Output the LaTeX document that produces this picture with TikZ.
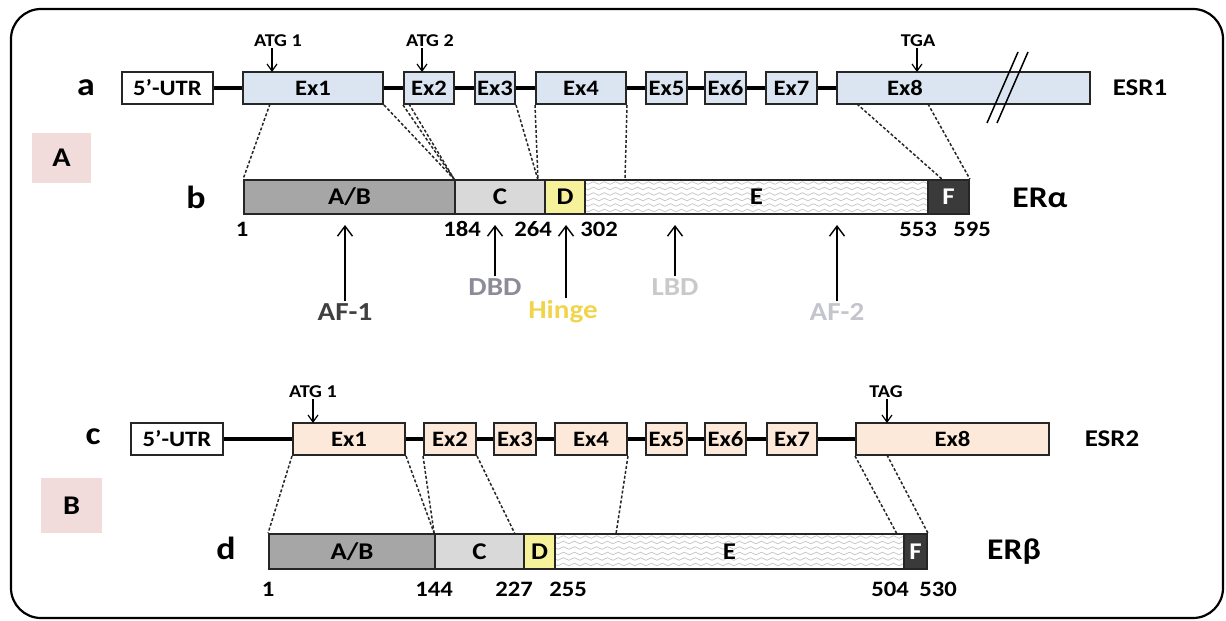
\documentclass[tikz,border=0pt]{standalone}
\usepackage{fontspec}
\setmainfont{Carlito}[FakeStretch=1.12]
\usetikzlibrary{arrows.meta,decorations.pathmorphing,calc}
\definecolor{exa}{HTML}{DBE5F1}
\definecolor{exb}{HTML}{FDE9D9}
\definecolor{abc}{HTML}{A6A6A6}
\definecolor{cc}{HTML}{D9D9D9}
\definecolor{dc}{HTML}{F5F29B}
\definecolor{fc}{HTML}{3A3A3A}
\definecolor{pinkc}{HTML}{F2DCDB}
\definecolor{boxline}{HTML}{262626}
\definecolor{wavec}{HTML}{C4C4C4}
\definecolor{afonec}{HTML}{404040}
\definecolor{dbdc}{HTML}{8C8C99}
\definecolor{hingec}{HTML}{F0D44C}
\definecolor{lbdc}{HTML}{C9C9C9}
\definecolor{aftwoc}{HTML}{C4C4CC}
\begin{document}
\begin{tikzpicture}[x=1pt,y=-1pt,
  exbox/.style={draw=boxline, line width=2pt, fill=exa, minimum height=32pt, inner sep=0pt, font=\fontsize{22}{22}\selectfont\bfseries},
  exboxb/.style={exbox, fill=exb},
  utrbox/.style={exbox, fill=white},
  dom/.style={draw=boxline, line width=1.8pt, minimum height=34pt, inner sep=0pt, font=\fontsize{24}{24}\selectfont\bfseries},
  wavy/.style={path picture={\foreach \k in {0,...,6}{\draw[wavec, line width=0.7pt, decorate, decoration={snake,amplitude=1.3pt,segment length=11pt}] ($(path picture bounding box.north west)+(-6,3+\k*5.5)$) -- ($(path picture bounding box.north east)+(6,3+\k*5.5)$);}}},
  intron/.style={line width=3.5pt, black},
  mapl/.style={dash pattern=on 3pt off 2pt, line width=1.5pt, black!85},
  sarr/.style={-{Straight Barb[length=7pt,width=10pt]}, line width=1.2pt},
  barr/.style={-{Straight Barb[length=10pt,width=15pt]}, line width=1.4pt},
  sm/.style={font=\fontsize{18}{18}\selectfont\bfseries, inner sep=1pt},
  num/.style={font=\fontsize{22}{22}\selectfont\bfseries, inner sep=1pt},
  big/.style={font=\fontsize{32}{32}\selectfont\bfseries, inner sep=0pt},
  gene/.style={font=\fontsize{24}{24}\selectfont\bfseries, inner sep=0pt},
  prot/.style={font=\fontsize{30}{30}\selectfont\bfseries, inner sep=0pt},
  lab/.style={font=\fontsize{26}{26}\selectfont\bfseries, inner sep=2pt},
  pinkbox/.style={fill=pinkc, inner sep=0pt, font=\fontsize{27}{27}\selectfont\bfseries}
]
\useasboundingbox (0,0) rectangle (1226,621);
\draw[line width=2.2pt, rounded corners=30pt] (11,9) rectangle (1223,618);

% pink panel labels
\node[pinkbox, minimum width=59pt, minimum height=50pt] (pa) at (61.5,158) {A};
\node[pinkbox, minimum width=61pt, minimum height=55pt] (pb) at (71.5,505.5) {B};

% ---------- ESR1 gene ----------
\node[big] (la) at (86,88) {a};
\node[utrbox, minimum width=91pt] (u1) at (167.5,88) {5’-UTR};
\node[exbox, minimum width=140pt] (e1) at (313,88) {Ex1};
\node[exbox, minimum width=50pt] (e2) at (429,88) {Ex2};
\node[exbox, minimum width=40pt] (e3) at (495,88) {Ex3};
\node[exbox, minimum width=90pt] (e4) at (581,88) {Ex4};
\node[exbox, minimum width=41pt] (e5) at (666.5,88) {Ex5};
\node[exbox, minimum width=41pt] (e6) at (725.5,88) {Ex6};
\node[exbox, minimum width=51pt] (e7) at (791.5,88) {Ex7};
\node[exbox, minimum width=253pt] (e8) at (963.5,88) {};
\node[font=\fontsize{22}{22}\selectfont\bfseries, inner sep=0pt] (e8l) at (905,88) {Ex8};
\draw[intron] (u1) -- (e1) -- (e2) -- (e3) -- (e4) -- (e5) -- (e6) -- (e7) -- (e8);
\draw[line width=1.5pt] (987,123) -- (1018,52) (997,123) -- (1028,52);
\node[gene] (esr1) at (1140,88) {ESR1};

\node[sm] (atga) at (278,41) {ATG 1};
\coordinate (ta) at (272,72);
\draw[sarr] (atga.south -| ta) -- (ta);
\node[sm] (atgb) at (430,41) {ATG 2};
\coordinate (tb) at (422,72);
\draw[sarr] (atgb.south -| tb) -- (tb);
\node[sm] (tga) at (918,41) {TGA};
\coordinate (tc) at (917,72);
\draw[sarr] (tga.south -| tc) -- (tc);

% ---------- ER alpha ----------
\node[big] (lb) at (196,197) {b};
\node[dom, fill=abc, minimum width=211pt] (ab1) at (349.5,197) {A/B};
\node[dom, fill=cc, minimum width=90pt] (c1) at (500,197) {C};
\node[dom, fill=dc, minimum width=40pt] (d1) at (565,197) {D};
\node[dom, fill=white, wavy, minimum width=343pt] (x1) at (756.5,197) {E};
\node[dom, fill=fc, text=white, minimum width=41pt] (f1) at (948.5,197) {F};
\node[prot] (era) at (1040,198) {ERα};

\node[num] (n11) at (242,229) {1};
\node[num] (n12) at (462,229) {184};
\node[num] (n13) at (533,229) {264};
\node[num] (n14) at (599,229) {302};
\node[num] (n15) at (918,229) {553};
\node[num] (n16) at (972,229) {595};

% mapping a -> b
\coordinate (ma1) at (270,104);
\draw[mapl] (ma1) -- (ab1.north west);
\draw[mapl] (e1.south east) -- (c1.north west);
\draw[mapl] (e2.south west) -- (c1.north west);
\coordinate (ma2) at (409,104);
\draw[mapl] (ma2) -- (c1.north west);
\coordinate (mb3) at (538,180);
\draw[mapl] (e3.south east) -- (mb3);
\draw[mapl] (e4.south west) -- (mb3);
\coordinate (mb4) at (625,180);
\draw[mapl] (e4.south east) -- (mb4);
\coordinate (ma8) at (857,104);
\coordinate (mb8) at (943,180);
\draw[mapl] (ma8) -- (mb8);
\coordinate (ma9) at (928,104);
\draw[mapl] (ma9) -- (f1.north east);

% functional labels
\node[lab, text=afonec] (af1) at (345,312) {AF-1};
\coordinate (af1t) at (345,225);
\draw[barr] (af1.north) -- (af1t);
\node[lab, text=dbdc] (dbd) at (495,287) {DBD};
\coordinate (dbdt) at (495,225);
\draw[barr] (dbd.north) -- (dbdt);
\node[lab, text=hingec] (hin) at (563,312) {Hinge};
\coordinate (hint) at (566,225);
\draw[barr] (hin.north -| hint) -- (hint);
\node[lab, text=lbdc] (lbd) at (675,287) {LBD};
\coordinate (lbdt) at (675,225);
\draw[barr] (lbd.north) -- (lbdt);
\node[lab, text=aftwoc] (af2) at (837,312) {AF-2};
\coordinate (af2t) at (837,225);
\draw[barr] (af2.north) -- (af2t);

% ---------- ESR2 gene ----------
\node[big] (lc) at (93,437) {c};
\node[utrbox, minimum width=92pt] (u2) at (177,439) {5’-UTR};
\node[exboxb, minimum width=112pt] (g1) at (349,439) {Ex1};
\node[exboxb, minimum width=52pt] (g2) at (450,439) {Ex2};
\node[exboxb, minimum width=42pt] (g3) at (515,439) {Ex3};
\node[exboxb, minimum width=72pt] (g4) at (591,439) {Ex4};
\node[exboxb, minimum width=41pt] (g5) at (666.5,439) {Ex5};
\node[exboxb, minimum width=41pt] (g6) at (725.5,439) {Ex6};
\node[exboxb, minimum width=50pt] (g7) at (792,439) {Ex7};
\node[exboxb, minimum width=193pt] (g8) at (952.5,439) {Ex8};
\draw[intron] (u2) -- (g1) -- (g2) -- (g3) -- (g4) -- (g5) -- (g6) -- (g7) -- (g8);
\node[gene] (esr2) at (1112,439) {ESR2};

\node[sm] (atgc) at (313,392) {ATG 1};
\coordinate (td) at (313,423);
\draw[sarr] (atgc.south -| td) -- (td);
\node[sm] (tag) at (886,392) {TAG};
\coordinate (te) at (887,423);
\draw[sarr] (tag.south -| te) -- (te);

% ---------- ER beta ----------
\node[big] (ld) at (226,548) {d};
\node[dom, fill=abc, minimum height=35pt, minimum width=166pt] (ab2) at (352,551.5) {A/B};
\node[dom, fill=cc, minimum height=35pt, minimum width=89pt] (c2) at (479.5,551.5) {C};
\node[dom, fill=dc, minimum height=35pt, minimum width=31pt] (d2) at (539.5,551.5) {D};
\node[dom, fill=white, wavy, minimum height=35pt, minimum width=349pt] (x2) at (729.5,551.5) {E};
\node[dom, fill=fc, text=white, minimum height=35pt, minimum width=23pt] (f2) at (915.5,551.5) {F};
\node[prot] (erb) at (1014,552) {ERβ};

\node[num] (n21) at (268,589) {1};
\node[num] (n22) at (434,589) {144};
\node[num] (n23) at (514,589) {227};
\node[num] (n24) at (568,589) {255};
\node[num] (n25) at (890,589) {504};
\node[num] (n26) at (938,589) {530};

% mapping c -> d
\draw[mapl] (g1.south west) -- (ab2.north west);
\draw[mapl] (g1.south east) -- (c2.north west);
\draw[mapl] (g2.south west) -- (c2.north west);
\coordinate (k2) at (515,534);
\draw[mapl] (g2.south east) -- (k2);
\coordinate (k4) at (616,534);
\draw[mapl] (g4.south east) -- (k4);
\coordinate (k8) at (897,534);
\draw[mapl] (g8.south west) -- (k8);
\coordinate (k9) at (887,455);
\draw[mapl] (k9) -- (f2.north east);
\end{tikzpicture}
\end{document}
